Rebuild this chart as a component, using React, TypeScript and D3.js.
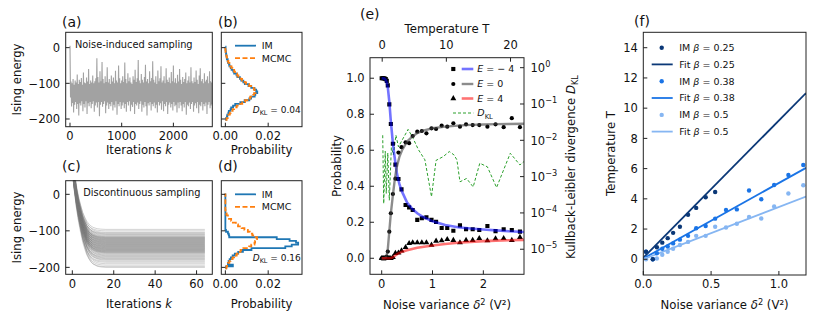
import React from "react";
import * as d3 from "d3";

const FONT = "DejaVu Sans, Liberation Sans, sans-serif";
const TFS = 11.5; // tick font size
const LFS = 11.7; // axis label font size
const GFS = 9.5; // legend font size

// ---------------- panel (a): noise-induced sampling trace (envelope per column)
const traceStep = 20;
const traceHigh = [
  5, -95, -100, -88, -104, -92, -98, -75, -102, -90,
  -96, -85, -104, -70, -98, -100, -84, -95, -60, -102,
  -92, -98, -78, -100, -94, -86, -30, -82, -98, -66,
  -94, -40, -88, -100, -80, -96, -55, -98, -88, -102,
  -78, -95, -84, -100, -65, -92, -98, -50, -86, -100,
  -92, -80, -96, -42, -88, -100, -72, -94, -84, -98,
  -102, -80, -90, -62, -96, -86, -35, -92, -100, -74,
  -90, -98, -82, -48, -95, -88, -100, -66, -94, -85,
  -38, -90, -98, -80, -102, -64, -94, -86, -52, -98,
  -92, -80, -100, -58, -90, -96, -84, -100, -68, -94,
  -50, -98, -86, -100, -76, -95, -60, -90, -102, -82,
  -96, -88, -70, -100, -92, -80, -98, -55, -94, -100,
  -84, -96, -64, -90, -102, -78, -58, -94, -88, -100,
  -72, -95, -90, -80, -100, -66, -94, -98,
];
const traceLow = [
  -140, -165, -155, -182, -160, -152, -172, -158, -190, -156,
  -162, -150, -178, -158, -168, -150, -186, -156, -164, -152,
  -170, -158, -150, -180, -162, -154, -168, -152, -192, -160,
  -152, -166, -158, -150, -184, -162, -154, -172, -158, -164,
  -152, -176, -160, -168, -150, -188, -158, -164, -152, -172,
  -162, -154, -170, -158, -180, -152, -162, -150, -178, -160,
  -166, -152, -186, -158, -162, -154, -172, -158, -150, -180,
  -160, -168, -152, -164, -190, -156, -162, -152, -176, -158,
  -164, -154, -170, -160, -182, -152, -162, -156, -174, -150,
  -178, -158, -164, -152, -186, -160, -154, -168, -158, -176,
  -152, -164, -160, -182, -154, -170, -152, -162, -178, -158,
  -168, -152, -188, -160, -164, -154, -172, -158, -152, -180,
  -162, -156, -170, -152, -184, -160, -164, -152, -176, -158,
  -164, -154, -186, -160, -152, -170, -162, -158,
];
const aTicksX = [0, 1000, 2000];
const energyTicks = [0, -100, -200];

// ---------------- panels (b),(d): energy histograms (bin centres every 5)
const histEnergy = [
  -200, -195, -190, -185, -180, -175, -170, -165, -160, -155, -150, -145, -140, -135, -130, -125, -120, -115, -110, -105,
  -100, -95, -90, -85, -80, -75, -70, -65, -60, -55, -50, -45, -40, -35, -30, -25, -20, -15, -10, -5, 0,
];
const imNoise = [
  0.0003, 0.0007, 0.0009, 0.0014, 0.0016, 0.0024, 0.0027, 0.0036, 0.0046, 0.007, 0.009, 0.0112, 0.012, 0.0137, 0.014, 0.0149, 0.0144, 0.0136, 0.0121, 0.0108,
  0.0091, 0.0084, 0.0074, 0.0068, 0.0056, 0.0052, 0.0041, 0.0037, 0.0029, 0.0025, 0.0019, 0.0017, 0.0012, 0.0011, 0.0007, 0.0006, 0.0004, 0.0003, 0.0002, 0.0001, 0.0001,
];
const mcmcNoise = [
  0.0006, 0.0011, 0.0014, 0.0021, 0.0025, 0.0034, 0.0041, 0.0053, 0.0064, 0.0079, 0.0092, 0.0107, 0.0116, 0.013, 0.0134, 0.0141, 0.0137, 0.0133, 0.012, 0.0111,
  0.0097, 0.009, 0.0078, 0.0071, 0.0061, 0.0055, 0.0045, 0.0041, 0.0033, 0.0029, 0.0022, 0.0019, 0.0014, 0.0011, 0.0008, 0.0006, 0.0004, 0.0002, 0.0001, 0.0, 0.0,
];
const imDisc = [
  0.0003, 0.0035, 0.0012, 0.0015, 0.002, 0.0026, 0.0034, 0.0044, 0.006, 0.0082, 0.0122, 0.028, 0.031, 0.034, 0.033, 0.03, 0.024, 0.0018, 0.0016, 0.0012,
  0.0003, 0, 0, 0, 0, 0, 0, 0, 0, 0, 0, 0, 0, 0, 0, 0, 0, 0, 0, 0, 0,
];
const mcmcDisc = [
  0.0005, 0.0008, 0.0012, 0.0019, 0.0024, 0.0034, 0.0041, 0.0053, 0.0059, 0.0071, 0.0084, 0.0111, 0.0121, 0.0136, 0.0139, 0.0147, 0.0148, 0.0137, 0.0126, 0.0114,
  0.0105, 0.0089, 0.0076, 0.0059, 0.0049, 0.0035, 0.0027, 0.0017, 0.0012, 0.0006, 0.0003, 0.0001, 0, 0, 0, 0, 0, 0, 0, 0, 0,
];
const probTicks = [0, 0.02];

// ---------------- panel (c): discontinuous sampling trajectories
const decayK = [0, 1, 2, 3, 4, 5, 6, 7, 8, 9, 10, 11, 12, 14, 16, 64];
const decayFrac = [0, 0.22, 0.4, 0.54, 0.65, 0.75, 0.82, 0.88, 0.92, 0.95, 0.97, 0.98, 0.99, 0.997, 1, 1];
const plateauLevels = [
  -96, -100, -104, -106, -108, -110, -112, -114, -116, -117, -118, -119, -120, -121, -122, -123, -124, -125, -126, -127,
  -128, -129, -130, -131, -132, -133, -134, -135, -136, -137, -138, -139, -140, -141, -142, -143, -144, -145, -146, -147,
  -148, -149, -150, -151, -152, -153, -154, -155, -156, -157, -158, -159, -160, -162, -164, -166, -168, -170, -172, -174,
  -176, -178, -180, -183, -186, -190, -194, -198, -200,
];
const startLevels = [90, 70, 110, 60, 80, 100];
const cTicksX = [0, 20, 40, 60];

// ---------------- panel (e)
const fitDelta = [0, 0.05, 0.08, 0.1, 0.12, 0.15, 0.18, 0.2, 0.22, 0.25, 0.28, 0.3, 0.35, 0.4, 0.5, 0.6, 0.7, 0.8, 1.0, 1.25, 1.5, 1.75, 2.0, 2.25, 2.5, 2.8];
const fitEm4 = [1.0, 0.998, 0.99, 0.975, 0.95, 0.87, 0.76, 0.7, 0.64, 0.57, 0.51, 0.47, 0.41, 0.37, 0.31, 0.275, 0.25, 0.232, 0.205, 0.185, 0.172, 0.165, 0.16, 0.155, 0.15, 0.146];
const fitE0 = [0, 0, 0.005, 0.02, 0.05, 0.15, 0.25, 0.3, 0.35, 0.42, 0.48, 0.51, 0.565, 0.6, 0.648, 0.675, 0.695, 0.708, 0.722, 0.731, 0.737, 0.741, 0.743, 0.745, 0.746, 0.747];
const fitE4 = [0, 0, 0, 0, 0, 0, 0.001, 0.003, 0.006, 0.012, 0.018, 0.022, 0.03, 0.036, 0.045, 0.052, 0.058, 0.063, 0.071, 0.079, 0.086, 0.091, 0.095, 0.098, 0.1, 0.102];

const ptDelta = [0, 0.02, 0.04, 0.06, 0.08, 0.1, 0.12, 0.15, 0.18, 0.22, 0.27, 0.33, 0.39, 0.47, 0.54, 0.61, 0.7, 0.79, 0.88, 0.98, 1.07, 1.18, 1.29, 1.41, 1.54, 1.66, 1.79, 1.92, 2.08, 2.24, 2.4, 2.56, 2.72];
const ptEm4 = [1.0, 1.0, 1.0, 0.998, 0.995, 0.985, 0.96, 0.855, 0.746, 0.636, 0.52, 0.44, 0.383, 0.296, 0.283, 0.268, 0.213, 0.222, 0.228, 0.213, 0.202, 0.168, 0.168, 0.153, 0.183, 0.161, 0.161, 0.157, 0.179, 0.151, 0.161, 0.157, 0.148];
const ptE0 = [0, 0, 0, 0, 0, 0.01, 0.037, 0.148, 0.25, 0.357, 0.442, 0.587, 0.617, 0.644, 0.639, 0.679, 0.703, 0.707, 0.694, 0.722, 0.718, 0.737, 0.731, 0.75, 0.731, 0.744, 0.74, 0.74, 0.731, 0.744, 0.728, 0.778, 0.728];
const ptE4 = [0, 0, 0, 0, 0, 0, 0, 0, 0, 0.005, 0.028, 0.03, 0.042, 0.061, 0.083, 0.087, 0.087, 0.087, 0.087, 0.074, 0.096, 0.098, 0.105, 0.1, 0.087, 0.1, 0.1, 0.111, 0.098, 0.109, 0.111, 0.1, 0.117];

const dklDelta = [0.02, 0.04, 0.07, 0.09, 0.12, 0.15, 0.19, 0.23, 0.28, 0.33, 0.38, 0.52, 0.62, 0.72, 0.85, 0.98, 1.07, 1.21, 1.33, 1.42, 1.48, 1.54, 1.67, 1.8, 1.93, 2.08, 2.26, 2.53, 2.72, 2.8];
const dklValue = [1.38e-2, 1.82e-4, 5.0e-3, 3.47e-4, 4.47e-3, 2.24e-4, 6.3e-3, 4.0e-3, 1.38e-2, 6.6e-3, 8.9e-3, 2.0e-2, 1.12e-2, 5.6e-3, 2.9e-3, 2.8e-4, 2.8e-3, 3.55e-3, 4.9e-3, 4.0e-3, 2.9e-3, 7.2e-4, 8.9e-4, 5.2e-4, 2.34e-3, 1.86e-3, 5.0e-4, 4.4e-3, 2.1e-3, 2.6e-3];

const eTicksX = [0, 1, 2];
const eTicksT = [0, 10, 20];
const eTicksP = [0, 0.2, 0.4, 0.6, 0.8, 1.0];
const eTicksLog = [0, -1, -2, -3, -4, -5];

// ---------------- panel (f)
const fDelta25 = [0.02, 0.07, 0.1, 0.14, 0.18, 0.22, 0.27, 0.33, 0.39, 0.46, 0.53];
const fT25 = [0.5, 0.0, 0.8, 1.1, 1.4, 1.75, 2.15, 2.95, 3.4, 4.1, 4.45];
const fDelta = [0.02, 0.07, 0.1, 0.14, 0.18, 0.22, 0.27, 0.33, 0.39, 0.46, 0.53, 0.61, 0.69, 0.78, 0.87, 0.965, 1.07, 1.18];
const fT38 = [0.5, 0.0, 0.4, 0.7, 0.85, 1.05, 1.3, 1.55, 2.05, 2.2, 2.69, 3.26, 3.3, 4.55, 3.97, 4.92, 5.58, 6.24];
const fT5 = [0.0, 0.0, 0.05, 0.3, 0.5, 0.7, 0.95, 1.15, 1.55, 1.55, 2.15, 2.1, 2.35, 2.8, 2.7, 3.5, 4.35, 4.9];
const fitX = [0, 1.2];
const fit25 = [0.1, 11.0];
const fit38 = [0.05, 6.05];
const fit5 = [0.0, 4.15];
const fTicksX = [0, 0.5, 1.0];
const fTicksY = [0, 2, 4, 6, 8, 10, 12, 14];
const betaLabels = ["0.25", "0.38", "0.5"];
const betaColors = ["#0b3877", "#1a74e6", "#86b6f2"];

const MINUS = "\u2212";
const fmtInt = (v: number) => (v < 0 ? MINUS + Math.abs(v) : String(v));

type Box = { l: number; r: number; t: number; b: number };

function Frame({ box }: { box: Box }) {
  return <rect x={box.l} y={box.t} width={box.r - box.l} height={box.b - box.t} fill="none" stroke="#222" strokeWidth={1} />;
}

function XTicks({ scale, ticks, box, fmt, top }: any) {
  return (
    <g>
      {ticks.map((t: number, i: number) => {
        const x = scale(t);
        return (
          <g key={i}>
            {top ? (
              <line x1={x} x2={x} y1={box.t} y2={box.t + 4} stroke="#222" strokeWidth={1} />
            ) : (
              <line x1={x} x2={x} y1={box.b} y2={box.b - 4} stroke="#222" strokeWidth={1} />
            )}
            <text x={x} y={top ? box.t - 8.5 : box.b + 13.3} textAnchor="middle" fontSize={TFS} fontFamily={FONT} fill="#111">
              {fmt(t)}
            </text>
          </g>
        );
      })}
    </g>
  );
}

function YTicks({ scale, ticks, box, fmt, noLabels }: any) {
  return (
    <g>
      {ticks.map((t: number, i: number) => {
        const y = scale(t);
        return (
          <g key={i}>
            <line x1={box.l} x2={box.l + 4} y1={y} y2={y} stroke="#222" strokeWidth={1} />
            {!noLabels && (
              <text x={box.l - 5.5} y={y + 4.2} textAnchor="end" fontSize={TFS} fontFamily={FONT} fill="#111">
                {fmt(t)}
              </text>
            )}
          </g>
        );
      })}
    </g>
  );
}

function histPath(x: any, y: any, energies: number[], probs: number[], half = 2.5) {
  const pts: [number, number][] = [];
  pts.push([x(0), y(energies[0] - half)]);
  energies.forEach((e, i) => {
    pts.push([x(probs[i]), y(e - half)]);
    pts.push([x(probs[i]), y(e + half)]);
  });
  pts.push([x(0), y(energies[energies.length - 1] + half)]);
  return d3.line()(pts) as string;
}

function PanelLabel({ x, y, s }: { x: number; y: number; s: string }) {
  return (
    <text x={x} y={y} fontSize={14} fontFamily={FONT} fill="#111">
      {s}
    </text>
  );
}

function DklText({ x, y, val }: { x: number; y: number; val: string }) {
  return (
    <text x={x} y={y} fontSize={9} fontFamily={FONT} fill="#111">
      <tspan fontStyle="italic">D</tspan>
      <tspan fontSize={6.4} dy={2.2}>KL</tspan>
      <tspan dy={-2.2}>{" = " + val}</tspan>
    </text>
  );
}

function HistLegend({ x, y }: { x: number; y: number }) {
  return (
    <g fontFamily={FONT} fontSize={GFS}>
      <line x1={x} x2={x + 21} y1={y} y2={y} stroke="#1f77b4" strokeWidth={1.8} />
      <text x={x + 26.7} y={y + 3.4} fill="#111">IM</text>
      <line x1={x} x2={x + 21} y1={y + 12.5} y2={y + 12.5} stroke="#ff7f0e" strokeWidth={1.8} strokeDasharray="5,2.5" />
      <text x={x + 26.7} y={y + 15.9} fill="#111">MCMC</text>
    </g>
  );
}

export default function App() {
  // ---- boxes
  const boxA: Box = { l: 65.7, r: 212.3, t: 32.3, b: 126.7 };
  const boxB: Box = { l: 221.3, r: 302, t: 32.3, b: 126.7 };
  const boxC: Box = { l: 65.7, r: 212.3, t: 180.7, b: 274.3 };
  const boxD: Box = { l: 221.3, r: 302, t: 180.7, b: 274.3 };
  const boxE: Box = { l: 370, r: 524, t: 57.7, b: 274.3 };
  const boxF: Box = { l: 643.3, r: 806, t: 32.3, b: 275 };

  // ---- scales
  const aX = d3.scaleLinear().domain([-83, 2753]).range([boxA.l, boxA.r]);
  const aY = d3.scaleLinear().domain([-221.6, 43]).range([boxA.b, boxA.t]);
  const bX = d3.scaleLinear().domain([-0.0019, 0.0358]).range([boxB.l, boxB.r]);
  const cX = d3.scaleLinear().domain([-3.2, 67.6]).range([boxC.l, boxC.r]);
  const cY = d3.scaleLinear().domain([-219, 37.3]).range([boxC.b, boxC.t]);
  const dX = bX.copy().range([boxD.l, boxD.r]);

  const eX = d3.scaleLinear().domain([-0.23, 2.8]).range([boxE.l, boxE.r]);
  const eT = d3.scaleLinear().domain([-1.9, 22.1]).range([boxE.l, boxE.r]);
  const eY = d3.scaleLinear().domain([-0.089, 1.114]).range([boxE.b, boxE.t]);
  const eK = d3.scaleLog().domain([Math.pow(10, -5.69), Math.pow(10, 0.275)]).range([boxE.b, boxE.t]);

  const fX = d3.scaleLinear().domain([0, 1.2]).range([boxF.l, boxF.r]);
  const fY = d3.scaleLinear().domain([-1.04, 15.02]).range([boxF.b, boxF.t]);

  // ---- (a) trace path
  const tracePts: [number, number][] = [];
  traceHigh.forEach((h, i) => {
    tracePts.push([aX(i * traceStep), aY(h)]);
    tracePts.push([aX(i * traceStep + traceStep / 2), aY(traceLow[i])]);
  });
  const tracePath = d3.line()(tracePts) as string;

  // ---- (c) trajectories
  const cLine = d3.line<[number, number]>().x((d) => cX(d[0])).y((d) => cY(d[1]));
  const trajPaths = plateauLevels.map((p, j) => {
    const s = startLevels[j % startLevels.length];
    const pts: [number, number][] = decayK.map((k, i) => [k, s + (p - s) * decayFrac[i]]);
    return cLine(pts) as string;
  });

  // ---- (e) lines
  const eLine = (ys: number[]) =>
    d3.line<number>().x((_, i) => eX(fitDelta[i])).y((d) => eY(d))(ys) as string;
  const dklPath = d3
    .line<number>()
    .x((_, i) => eX(dklDelta[i]))
    .y((d) => eK(d))(dklValue) as string;
  const sq = d3.symbol(d3.symbolSquare, 17)() as string;
  const tri = d3.symbol(d3.symbolTriangle, 15)() as string;

  // ---- (f) lines
  const fLine = (ys: number[]) =>
    d3.line<number>().x((_, i) => fX(fitX[i])).y((d) => fY(d))(ys) as string;

  const blueFit = { stroke: "#0000ff", strokeOpacity: 0.55, strokeWidth: 2.6 };
  const grayFit = { stroke: "#404040", strokeOpacity: 0.6, strokeWidth: 2.4 };
  const redFit = { stroke: "#ff0000", strokeOpacity: 0.55, strokeWidth: 2.6 };

  const legE = [
    { y: 69, label: "\u2212 4", marker: "sq", fit: blueFit },
    { y: 84, label: "0", marker: "circ", fit: grayFit },
    { y: 98.5, label: "4", marker: "tri", fit: redFit },
  ];

  return (
    <svg
      width={822}
      height={331}
      viewBox="0 0 822 331"
      style={{ position: "absolute", left: 0, top: 0, background: "#fff" }}
      fontFamily={FONT}
    >
      <defs>
        <clipPath id="clipA"><rect x={boxA.l} y={boxA.t} width={boxA.r - boxA.l} height={boxA.b - boxA.t} /></clipPath>
        <clipPath id="clipB"><rect x={boxB.l} y={boxB.t} width={boxB.r - boxB.l} height={boxB.b - boxB.t} /></clipPath>
        <clipPath id="clipC"><rect x={boxC.l} y={boxC.t} width={boxC.r - boxC.l} height={boxC.b - boxC.t} /></clipPath>
        <clipPath id="clipD"><rect x={boxD.l} y={boxD.t} width={boxD.r - boxD.l} height={boxD.b - boxD.t} /></clipPath>
        <clipPath id="clipE"><rect x={boxE.l} y={boxE.t} width={boxE.r - boxE.l} height={boxE.b - boxE.t} /></clipPath>
        <clipPath id="clipF"><rect x={boxF.l} y={boxF.t} width={boxF.r - boxF.l} height={boxF.b - boxF.t} /></clipPath>
      </defs>
      <rect x={0} y={0} width={822} height={331} fill="#fff" />

      {/* ================= (a) ================= */}
      <g clipPath="url(#clipA)">
        <path d={tracePath} fill="none" stroke="#a2a2a2" strokeWidth={1.1} />
      </g>
      <text x={75} y={47.5} fontSize={9.8} fill="#111">Noise-induced sampling</text>
      <Frame box={boxA} />
      <XTicks scale={aX} ticks={aTicksX} box={boxA} fmt={(v: number) => String(v)} />
      <YTicks scale={aY} ticks={energyTicks} box={boxA} fmt={fmtInt} />
      <text x={139} y={153.5} textAnchor="middle" fontSize={LFS} fill="#111">
        Iterations <tspan fontStyle="italic">k</tspan>
      </text>
      <text transform="translate(21.3,79.5) rotate(-90)" textAnchor="middle" fontSize={LFS} fill="#111">Ising energy</text>
      <PanelLabel x={62} y={26.5} s="(a)" />

      {/* ================= (b) ================= */}
      <g clipPath="url(#clipB)">
        <path d={histPath(bX, aY, histEnergy, imNoise)} fill="none" stroke="#1f77b4" strokeWidth={1.8} />
        <path d={histPath(bX, aY, histEnergy, mcmcNoise)} fill="none" stroke="#ff7f0e" strokeWidth={1.8} strokeDasharray="5,2.5" />
      </g>
      <HistLegend x={235} y={45.7} />
      <DklText x={252.7} y={113} val="0.04" />
      <Frame box={boxB} />
      <XTicks scale={bX} ticks={probTicks} box={boxB} fmt={(v: number) => v.toFixed(2)} />
      <YTicks scale={aY} ticks={energyTicks} box={boxB} fmt={fmtInt} noLabels />
      <text x={(boxB.l + boxB.r) / 2} y={153.5} textAnchor="middle" fontSize={LFS} fill="#111">Probability</text>
      <PanelLabel x={218} y={26.5} s="(b)" />

      {/* ================= (c) ================= */}
      <g clipPath="url(#clipC)">
        {trajPaths.map((d, i) => (
          <path key={i} d={d} fill="none" stroke="#7a7a7a" strokeOpacity={0.33} strokeWidth={1} />
        ))}
      </g>
      <text x={83.3} y={195.8} fontSize={9.8} fill="#111">Discontinuous sampling</text>
      <Frame box={boxC} />
      <XTicks scale={cX} ticks={cTicksX} box={boxC} fmt={(v: number) => String(v)} />
      <YTicks scale={cY} ticks={energyTicks} box={boxC} fmt={fmtInt} />
      <text x={139} y={308.3} textAnchor="middle" fontSize={LFS} fill="#111">
        Iterations <tspan fontStyle="italic">k</tspan>
      </text>
      <text transform="translate(21.3,227.5) rotate(-90)" textAnchor="middle" fontSize={LFS} fill="#111">Ising energy</text>
      <PanelLabel x={62} y={171} s="(c)" />

      {/* ================= (d) ================= */}
      <g clipPath="url(#clipD)">
        <path d={histPath(dX, cY, histEnergy, imDisc)} fill="none" stroke="#1f77b4" strokeWidth={1.8} />
        <path d={histPath(dX, cY, histEnergy, mcmcDisc)} fill="none" stroke="#ff7f0e" strokeWidth={1.8} strokeDasharray="5,2.5" />
      </g>
      <HistLegend x={235} y={194.3} />
      <DklText x={252.7} y={260.5} val="0.16" />
      <Frame box={boxD} />
      <XTicks scale={dX} ticks={probTicks} box={boxD} fmt={(v: number) => v.toFixed(2)} />
      <YTicks scale={cY} ticks={energyTicks} box={boxD} fmt={fmtInt} noLabels />
      <text x={(boxD.l + boxD.r) / 2} y={308.3} textAnchor="middle" fontSize={LFS} fill="#111">Probability</text>
      <PanelLabel x={218} y={171} s="(d)" />

      {/* ================= (e) ================= */}
      <g clipPath="url(#clipE)">
        <path d={dklPath} fill="none" stroke="#2ca02c" strokeWidth={1} strokeDasharray="3,2" />
        {ptDelta.map((d, i) => (
          <path key={"s" + i} d={sq} transform={`translate(${eX(d)},${eY(ptEm4[i])})`} fill="#000" />
        ))}
        {ptDelta.map((d, i) => (
          <circle key={"c" + i} cx={eX(d)} cy={eY(ptE0[i])} r={2.1} fill="#000" />
        ))}
        {ptDelta.map((d, i) => (
          <path key={"t" + i} d={tri} transform={`translate(${eX(d)},${eY(ptE4[i])})`} fill="#000" />
        ))}
        <path d={eLine(fitEm4)} fill="none" {...blueFit} />
        <path d={eLine(fitE0)} fill="none" {...grayFit} />
        <path d={eLine(fitE4)} fill="none" {...redFit} />
      </g>
      {/* legend (e) */}
      <g fontSize={GFS}>
        {legE.map((r, i) => (
          <g key={i}>
            {r.marker === "sq" && <path d={sq} transform={`translate(453.3,${r.y})`} fill="#000" />}
            {r.marker === "circ" && <circle cx={453.3} cy={r.y} r={2.1} fill="#000" />}
            {r.marker === "tri" && <path d={tri} transform={`translate(453.3,${r.y})`} fill="#000" />}
            <line x1={461.7} x2={473.3} y1={r.y} y2={r.y} {...r.fit} />
            <text x={477.3} y={r.y + 3.4} fill="#111">
              <tspan fontStyle="italic">E</tspan>
              {" = " + r.label}
            </text>
          </g>
        ))}
        <line x1={453} x2={473.3} y1={113} y2={113} stroke="#2ca02c" strokeWidth={1} strokeDasharray="3,2" />
        <text x={477.3} y={116.4} fill="#111">
          <tspan fontStyle="italic">D</tspan>
          <tspan fontSize={6.8} dy={2.2}>KL</tspan>
        </text>
      </g>
      <Frame box={boxE} />
      <XTicks scale={eX} ticks={eTicksX} box={boxE} fmt={(v: number) => String(v)} />
      <XTicks scale={eT} ticks={eTicksT} box={boxE} fmt={(v: number) => String(v)} top />
      <YTicks scale={eY} ticks={eTicksP} box={boxE} fmt={(v: number) => v.toFixed(1)} />
      {eTicksLog.map((k, i) => {
        const y = eK(Math.pow(10, k));
        return (
          <g key={i}>
            <line x1={boxE.r} x2={boxE.r - 4} y1={y} y2={y} stroke="#222" strokeWidth={1} />
            <text x={boxE.r + 6.5} y={y + 4.2} fontSize={TFS} fill="#111">
              10<tspan fontSize={8.2} dy={-5}>{k === 0 ? "0" : MINUS + Math.abs(k)}</tspan>
            </text>
          </g>
        );
      })}
      <text x={(boxE.l + boxE.r) / 2} y={309} textAnchor="middle" fontSize={LFS} fill="#111">
        Noise variance <tspan fontStyle="italic">δ</tspan>
        <tspan fontSize={8.2} dy={-4.5}>2</tspan>
        <tspan dy={4.5}>{" (V\u00b2)"}</tspan>
      </text>
      <text x={(boxE.l + boxE.r) / 2} y={32.5} textAnchor="middle" fontSize={LFS} fill="#111">Temperature T</text>
      <text transform="translate(341,166) rotate(-90)" textAnchor="middle" fontSize={LFS} fill="#111">Probability</text>
      <text transform="translate(575,167) rotate(-90)" textAnchor="middle" fontSize={LFS} fill="#111">
        Kullback-Leibler divergence <tspan fontStyle="italic">D</tspan>
        <tspan fontSize={8.2} dy={2.5}>KL</tspan>
      </text>
      <PanelLabel x={360} y={18.5} s="(e)" />

      {/* ================= (f) ================= */}
      <g clipPath="url(#clipF)">
        <path d={fLine(fit25)} fill="none" stroke={betaColors[0]} strokeWidth={1.8} />
        <path d={fLine(fit38)} fill="none" stroke={betaColors[1]} strokeWidth={1.8} />
        <path d={fLine(fit5)} fill="none" stroke={betaColors[2]} strokeWidth={1.8} />
        {fDelta.map((d, i) => (
          <circle key={"l" + i} cx={fX(d)} cy={fY(fT5[i])} r={2.2} fill={betaColors[2]} />
        ))}
        {fDelta.map((d, i) => (
          <circle key={"m" + i} cx={fX(d)} cy={fY(fT38[i])} r={2.2} fill={betaColors[1]} />
        ))}
        {fDelta25.map((d, i) => (
          <circle key={"d" + i} cx={fX(d)} cy={fY(fT25[i])} r={2.2} fill={betaColors[0]} />
        ))}
      </g>
      <g fontSize={GFS}>
        {betaLabels.map((b, i) => {
          const y0 = 47.7 + i * 33.6;
          return (
            <g key={i}>
              <circle cx={661.7} cy={y0} r={2.2} fill={betaColors[i]} />
              <text x={679.3} y={y0 + 3.4} fill="#111">
                IM <tspan fontStyle="italic">β</tspan>{" = " + b}
              </text>
              <line x1={651.7} x2={672.7} y1={y0 + 16.7} y2={y0 + 16.7} stroke={betaColors[i]} strokeWidth={1.8} />
              <text x={679.3} y={y0 + 16.7 + 3.4} fill="#111">
                Fit <tspan fontStyle="italic">β</tspan>{" = " + b}
              </text>
            </g>
          );
        })}
      </g>
      <Frame box={boxF} />
      <XTicks scale={fX} ticks={fTicksX} box={boxF} fmt={(v: number) => v.toFixed(1)} />
      <YTicks scale={fY} ticks={fTicksY} box={boxF} fmt={(v: number) => String(v)} />
      <text x={(boxF.l + boxF.r) / 2} y={309} textAnchor="middle" fontSize={LFS} fill="#111">
        Noise variance <tspan fontStyle="italic">δ</tspan>
        <tspan fontSize={8.2} dy={-4.5}>2</tspan>
        <tspan dy={4.5}>{" (V\u00b2)"}</tspan>
      </text>
      <text transform="translate(615,153.5) rotate(-90)" textAnchor="middle" fontSize={LFS} fill="#111">Temperature T</text>
      <PanelLabel x={634} y={25.5} s="(f)" />
    </svg>
  );
}
